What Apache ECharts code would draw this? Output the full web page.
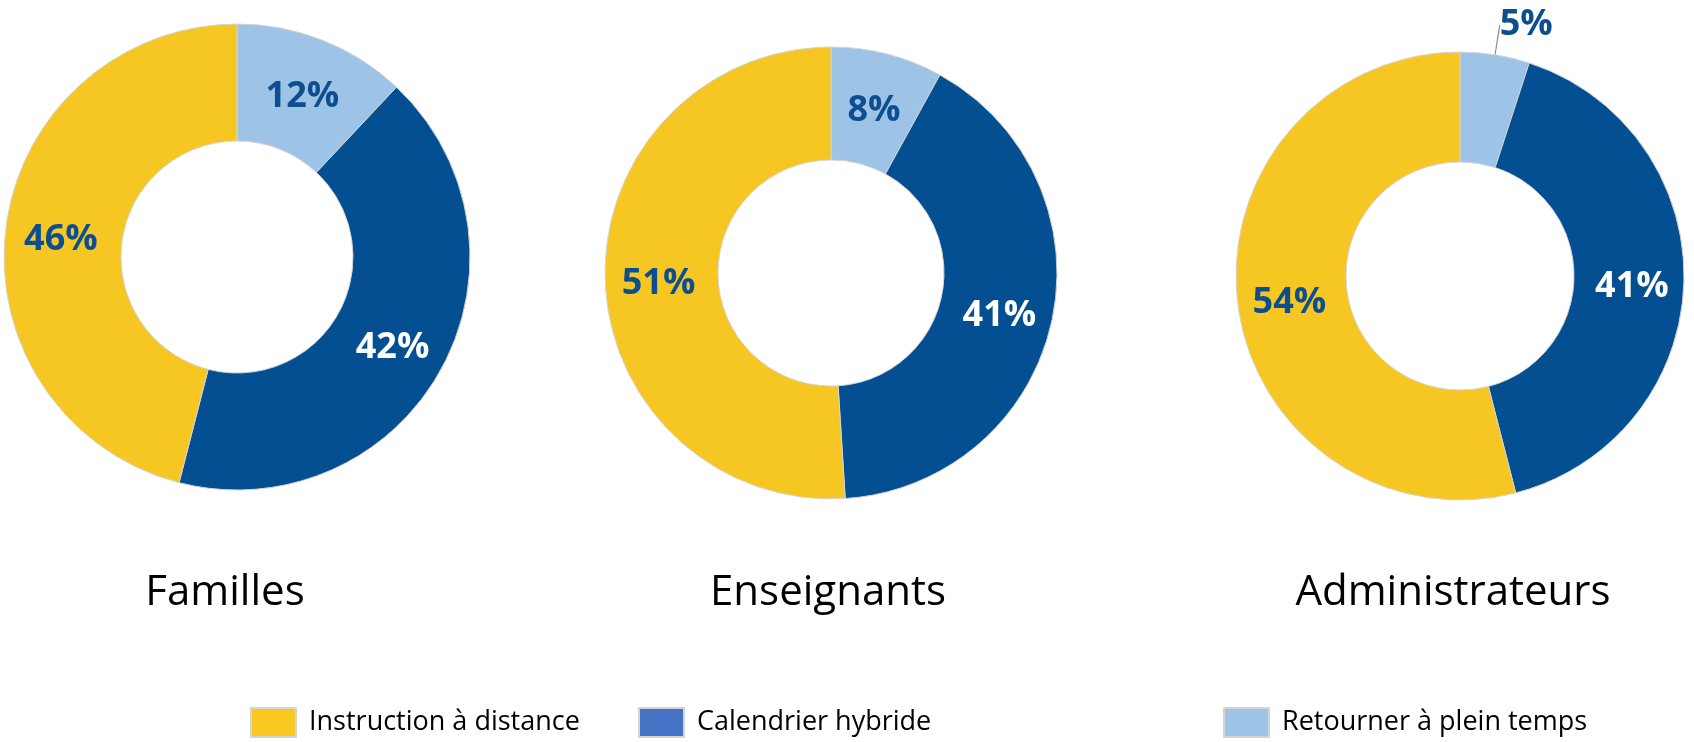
<!DOCTYPE html>
<html>
<head>
<meta charset="utf-8">
<script src="https://cdn.jsdelivr.net/npm/echarts@6/dist/echarts.min.js"></script>
<style>
	html, body { margin: 0; padding: 0; background: #ffffff; }
	#chart { width: 1694px; height: 742px; }
</style>
</head>
<body>
<div id="chart"></div>
<script>
// catégories dans l'ordre horaire à partir de midi
const categories = ['Retourner à plein temps', 'Calendrier hybride', 'Instruction à distance'];
const legendOrder = ['Instruction à distance', 'Calendrier hybride', 'Retourner à plein temps'];
const groups = ['Familles', 'Enseignants', 'Administrateurs'];
const familles = [12, 42, 46];
const enseignants = [8, 41, 51];
const administrateurs = [5, 41, 54];

const sliceColors = ['#9dc3e6', '#034f91', '#f6c623'];
const labelColors = ['#0c4f91', '#ffffff', '#0c4f91'];
const legendColors = ['#f9c922', '#4472c4', '#9dc3e6'];

const font = '"Open Sans", "Liberation Sans", sans-serif';

const layout = [
	{ center: [237, 257], radius: [116, 233], titleX: 225 },
	{ center: [831, 273], radius: [113, 226], titleX: 828 },
	{ center: [1460, 276], radius: [114, 224], titleX: 1453 }
];
const values = [familles, enseignants, administrateurs];

function buildData(vals) {
	return vals.map(function (v, i) {
		const item = {
			name: categories[i],
			value: v,
			itemStyle: { color: sliceColors[i] },
			label: { color: labelColors[i] }
		};
		if (v < 6) { // petite tranche : étiquette à l'extérieur
			item.label = {
				position: 'outside',
				color: labelColors[i],
				offset: [0, 0],
				distanceToLabelLine: 0
			};
			item.labelLine = {
				show: true,
				length: 30,
				length2: 0,
				lineStyle: { color: '#8c8c8c', width: 1.2 }
			};
		}
		return item;
	});
}

const chart = echarts.init(document.getElementById('chart'));
const option = {
	animation: false,
	title: groups.map(function (g, i) {
		return {
			text: g,
			left: layout[i].titleX,
			top: 572,
			padding: 0,
			textAlign: 'center',
			textStyle: {
				fontFamily: font,
				fontSize: 42,
				fontWeight: 'normal',
				color: '#000000'
			}
		};
	}),
	legend: legendOrder.map(function (name, i) {
		return {
			data: [{ name: name, itemStyle: { color: legendColors[i] } }],
			left: [250, 638, 1223][i],
			top: 707,
			padding: 0,
			itemWidth: 45,
			itemHeight: 29,
			icon: 'rect',
			selectedMode: false,
			textStyle: {
				fontFamily: font,
				fontSize: 27,
				color: '#000000',
				padding: [0, 0, 0, 8]
			}
		};
	}),
	series: values.map(function (vals, i) {
		return {
			type: 'pie',
			name: groups[i],
			center: layout[i].center,
			radius: layout[i].radius,
			startAngle: 90,
			clockwise: true,
			avoidLabelOverlap: false,
			emphasis: { disabled: true },
			itemStyle: {
				borderColor: '#d4d4d4',
				borderWidth: 1
			},
			label: {
				show: true,
				position: 'inside',
				formatter: '{c}%',
				fontFamily: font,
				fontSize: 36,
				fontWeight: 'bold',
				offset: [0, 5]
			},
			labelLine: { show: false },
			data: buildData(vals)
		};
	})
};
chart.setOption(option);
</script>
</body>
</html>
